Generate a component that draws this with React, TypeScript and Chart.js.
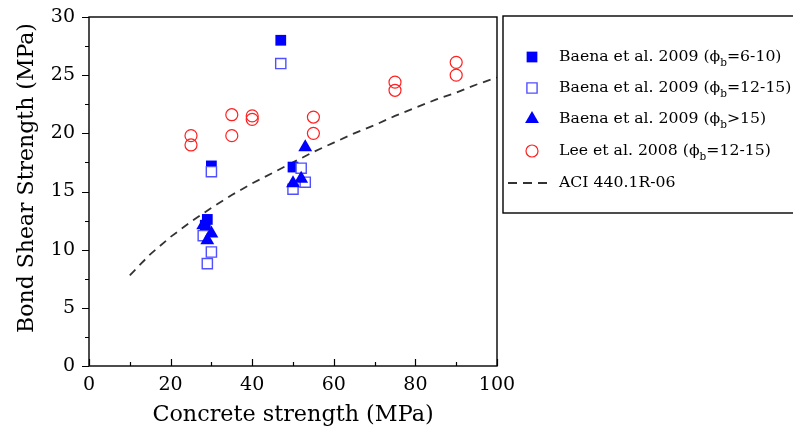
import React, { useEffect, useRef } from "react";
import { Chart, registerables } from "chart.js";
import { drawPoint } from "chart.js/helpers";

Chart.register(...registerables);

// Baena et al. 2009, bar diameter 6-10 mm
const baenaSmallX = [47, 30, 50, 29, 28.5];
const baenaSmallY = [28, 17.2, 17.1, 12.6, 12.1];

// Baena et al. 2009, bar diameter 12-15 mm
const baenaMidX = [47, 30, 52, 53, 50, 28, 30, 29];
const baenaMidY = [26, 16.7, 17.0, 15.8, 15.2, 11.2, 9.8, 8.8];

// Baena et al. 2009, bar diameter > 15 mm
const baenaLargeX = [53, 50, 52, 28, 30, 29];
const baenaLargeY = [18.8, 15.7, 16.1, 12.1, 11.4, 10.8];

// Lee et al. 2008, bar diameter 12-15 mm
const leeX = [25, 25, 35, 35, 40, 40, 55, 55, 75, 75, 90, 90];
const leeY = [19.8, 19.0, 21.6, 19.8, 21.5, 21.2, 21.4, 20.0, 24.4, 23.7, 26.1, 25.0];

// ACI 440.1R-06 design curve
const aciX = [10, 15, 20, 25, 30, 35, 40, 45, 50, 55, 60, 65, 70, 75, 80, 85, 90, 95, 100];
const aciY = [7.8, 9.6, 11.1, 12.4, 13.6, 14.7, 15.7, 16.6, 17.5, 18.4, 19.2, 20.0, 20.7, 21.5, 22.2, 22.9, 23.5, 24.2, 24.8];

const yTicks = [0, 5, 10, 15, 20, 25, 30];
const xTicks = [0, 20, 40, 60, 80, 100];

const yTitle = "Bond Shear Strength (MPa)";
const xTitle = "Concrete strength (MPa)";

const legendLabels = [
  { pre: "Baena et al. 2009 (\u03D5", sub: "b", post: "=6-10)" },
  { pre: "Baena et al. 2009 (\u03D5", sub: "b", post: "=12-15)" },
  { pre: "Baena et al. 2009 (\u03D5", sub: "b", post: ">15)" },
  { pre: "Lee et al. 2008 (\u03D5", sub: "b", post: "=12-15)" },
  { pre: "ACI 440.1R-06", sub: "", post: "" },
];

const SERIF = "'DejaVu Serif', serif";
const LEGEND_FONT = `15.7px ${SERIF}`;
const LEGEND_SUB_FONT = `10.5px ${SERIF}`;

const pts = (xs: number[], ys: number[]) => xs.map((x, i) => ({ x, y: ys[i] }));

// Frame, tick marks, vertical axis title and the boxed legend
const decorPlugin = {
  id: "decor",
  afterDraw(chart: any) {
    const { ctx, chartArea: a, scales } = chart;
    const xs = scales.x;
    const ys = scales.y;
    ctx.save();
    ctx.strokeStyle = "#000";
    ctx.lineWidth = 1.4;
    ctx.strokeRect(a.left, a.top, a.right - a.left, a.bottom - a.top);

    ctx.lineWidth = 1.2;
    ctx.beginPath();
    for (let v = 0; v <= 30; v += 2.5) {
      const py = Math.round(ys.getPixelForValue(v)) + 0.5;
      const len = v % 5 === 0 ? 7 : 4;
      ctx.moveTo(a.left, py);
      ctx.lineTo(a.left - len, py);
    }
    for (let v = 0; v <= 100; v += 10) {
      const px = Math.round(xs.getPixelForValue(v)) + 0.5;
      const len = v % 20 === 0 ? 7 : 4;
      ctx.moveTo(px, a.bottom);
      ctx.lineTo(px, a.bottom - len);
    }
    ctx.stroke();

    // vertical axis title
    ctx.save();
    ctx.translate(27, 178);
    ctx.rotate(-Math.PI / 2);
    ctx.fillStyle = "#000";
    ctx.font = `22px ${SERIF}`;
    ctx.textAlign = "center";
    ctx.textBaseline = "middle";
    ctx.fillText(yTitle, 0, 0);
    ctx.restore();

    // legend box
    const bx = 503;
    const by = 16;
    const bh = 197;
    ctx.lineWidth = 1.4;
    ctx.strokeRect(bx, by, 320, bh);

    const rowY = [57, 88, 119, 151, 183];
    const markX = 532;
    const textX = 559;
    chart.data.datasets.forEach((ds: any, i: number) => {
      const y = rowY[i];
      ctx.save();
      if (ds.showLine) {
        ctx.strokeStyle = ds.borderColor;
        ctx.lineWidth = ds.borderWidth;
        ctx.setLineDash([9, 6]);
        ctx.beginPath();
        ctx.moveTo(508, y);
        ctx.lineTo(548, y);
        ctx.stroke();
      } else {
        ctx.fillStyle = ds.pointBackgroundColor;
        ctx.strokeStyle = ds.pointBorderColor;
        ctx.lineWidth = ds.pointBorderWidth;
        drawPoint(ctx, { pointStyle: ds.pointStyle, rotation: 0, radius: ds.pointRadius, borderWidth: ds.pointBorderWidth }, markX, y);
      }
      ctx.restore();

      const lab = legendLabels[i];
      ctx.fillStyle = "#000";
      ctx.textBaseline = "middle";
      ctx.textAlign = "left";
      ctx.font = LEGEND_FONT;
      let x = textX;
      ctx.fillText(lab.pre, x, y);
      x += ctx.measureText(lab.pre).width;
      if (lab.sub) {
        ctx.font = LEGEND_SUB_FONT;
        ctx.fillText(lab.sub, x, y + 6);
        x += ctx.measureText(lab.sub).width;
        ctx.font = LEGEND_FONT;
        ctx.fillText(lab.post, x, y);
      }
    });
    ctx.restore();
  },
};

export default function App() {
  const ref = useRef<HTMLCanvasElement | null>(null);

  useEffect(() => {
    const canvas = ref.current;
    if (!canvas) return;
    const chart = new Chart(canvas, {
      type: "scatter",
      data: {
        datasets: [
          {
            label: "Baena et al. 2009 (6-10)",
            data: pts(baenaSmallX, baenaSmallY),
            pointStyle: "rect",
            pointRadius: 7.6,
            pointBackgroundColor: "#0000ff",
            pointBorderColor: "#0000ff",
            pointBorderWidth: 0,
            order: 3,
          },
          {
            label: "Baena et al. 2009 (12-15)",
            data: pts(baenaMidX, baenaMidY),
            pointStyle: "rect",
            pointRadius: 7.2,
            pointBackgroundColor: "#ffffff",
            pointBorderColor: "#5050ff",
            pointBorderWidth: 1.4,
            order: 2,
          },
          {
            label: "Baena et al. 2009 (>15)",
            data: pts(baenaLargeX, baenaLargeY),
            pointStyle: "triangle",
            pointRadius: 8,
            pointBackgroundColor: "#0000ff",
            pointBorderColor: "#0000ff",
            pointBorderWidth: 0,
            order: 1,
          },
          {
            label: "Lee et al. 2008 (12-15)",
            data: pts(leeX, leeY),
            pointStyle: "circle",
            pointRadius: 6,
            pointBackgroundColor: "rgba(0,0,0,0)",
            pointBorderColor: "#ff2020",
            pointBorderWidth: 1.2,
            order: 0,
          },
          {
            label: "ACI 440.1R-06",
            data: pts(aciX, aciY),
            showLine: true,
            pointRadius: 0,
            borderColor: "#333333",
            borderWidth: 1.8,
            borderDash: [8, 6],
            pointBackgroundColor: "#333333",
            pointBorderColor: "#333333",
            pointBorderWidth: 0,
            order: 4,
          } as any,
        ],
      },
      options: {
        animation: false,
        responsive: false,
        events: [],
        layout: { padding: { left: 0, top: 17, right: 296, bottom: 0 } },
        plugins: { legend: { display: false }, tooltip: { enabled: false } },
        scales: {
          x: {
            type: "linear",
            min: 0,
            max: 100,
            afterBuildTicks: (s: any) => {
              s.ticks = xTicks.map((v) => ({ value: v }));
            },
            afterFit: (s: any) => {
              s.height = 69;
              s.paddingLeft = 0;
              s.paddingRight = 0;
            },
            grid: { display: false, drawTicks: false },
            border: { display: false },
            ticks: { color: "#000", font: { family: SERIF, size: 19 }, padding: 8, maxRotation: 0 },
            title: {
              display: true,
              text: xTitle,
              color: "#000",
              font: { family: SERIF, size: 22.3 },
              padding: { top: 0, bottom: 6 },
            },
          },
          y: {
            type: "linear",
            min: 0,
            max: 30,
            afterBuildTicks: (s: any) => {
              s.ticks = yTicks.map((v) => ({ value: v }));
            },
            afterFit: (s: any) => {
              s.width = 89;
              s.paddingTop = 0;
              s.paddingBottom = 0;
            },
            grid: { display: false, drawTicks: false },
            border: { display: false },
            ticks: { color: "#000", font: { family: SERIF, size: 19 }, padding: 14 },
            title: { display: false },
          },
        },
      },
      plugins: [decorPlugin],
    });
    return () => chart.destroy();
  }, []);

  return (
    <div style={{ position: "absolute", left: 0, top: 0, width: 793, height: 435, background: "#fff" }}>
      <canvas ref={ref} width={793} height={435} />
    </div>
  );
}
